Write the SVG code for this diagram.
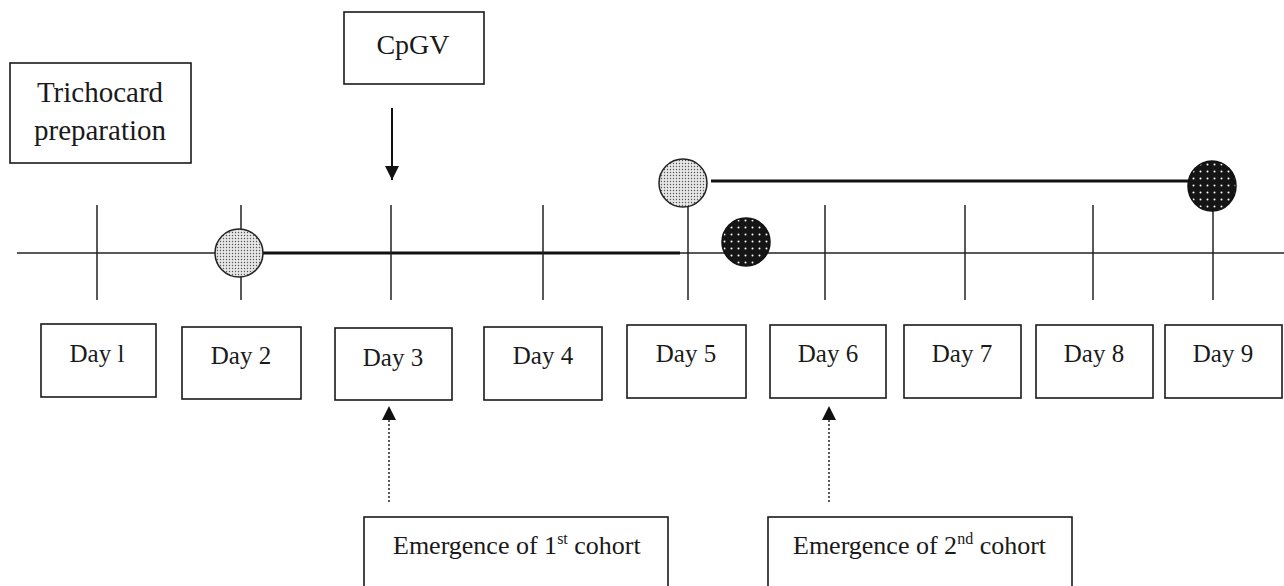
<svg xmlns="http://www.w3.org/2000/svg" width="1284" height="586" viewBox="0 0 1284 586">
<style>
.box{fill:#fff;stroke:#1a1a1a;stroke-width:1.6}
.t{font-family:"Liberation Serif","Times New Roman",serif;fill:#1a1a1a}
.day{font-size:25px;text-anchor:middle}
.big{font-size:29px;text-anchor:middle}
.cp{font-size:28px;text-anchor:middle}
.em{font-size:26px}
.tick{stroke:#222;stroke-width:1.5}
.thin{stroke:#222;stroke-width:1.4}
.thick{stroke:#111;stroke-width:3}
.light{fill:url(#lightdots);stroke:#222;stroke-width:1.5}
.dark{fill:url(#darkdots);stroke:#111;stroke-width:1.5}
.dot{stroke:#222;stroke-width:1.5;stroke-dasharray:2 2;fill:none}
.solid{stroke:#111;stroke-width:2;fill:none}
</style>
<defs>
<pattern id="lightdots" width="3" height="3" patternUnits="userSpaceOnUse">
<rect width="3" height="3" fill="#e6e6e6"/>
<circle cx="1.5" cy="1.5" r="0.7" fill="#555"/>
</pattern>
<pattern id="darkdots" width="7" height="7" patternUnits="userSpaceOnUse">
<rect width="7" height="7" fill="#151515"/>
<circle cx="3.5" cy="3.5" r="1" fill="#fff"/>
</pattern>
<marker id="ah" viewBox="0 0 10 10" refX="10" refY="5" markerWidth="14" markerHeight="14" markerUnits="userSpaceOnUse" orient="auto">
<path d="M0,0 L10,5 L0,10 z" fill="#111"/>
</marker>
</defs>

<g id="connectors">
<line class="thin" x1="17" y1="253" x2="1284" y2="253"/>
<line class="thick" x1="262" y1="253" x2="680" y2="253"/>
<line class="thick" x1="711" y1="181" x2="1190" y2="181"/>
<line class="tick" x1="97" y1="205" x2="97" y2="300"/>
<line class="tick" x1="241" y1="205" x2="241" y2="300"/>
<line class="tick" x1="391" y1="205" x2="391" y2="300"/>
<line class="tick" x1="543" y1="205" x2="543" y2="300"/>
<line class="tick" x1="688" y1="205" x2="688" y2="300"/>
<line class="tick" x1="825" y1="205" x2="825" y2="300"/>
<line class="tick" x1="965" y1="205" x2="965" y2="300"/>
<line class="tick" x1="1093" y1="205" x2="1093" y2="300"/>
<line class="tick" x1="1213" y1="205" x2="1213" y2="300"/>
<line class="solid" x1="392" y1="108" x2="392" y2="180" marker-end="url(#ah)"/>
<line class="dot" x1="389" y1="502" x2="389" y2="406" marker-end="url(#ah)"/>
<line class="dot" x1="829" y1="502" x2="829" y2="406" marker-end="url(#ah)"/>
</g>

<g id="markers">
<ellipse class="light" cx="239" cy="253" rx="24" ry="24"/>
<ellipse class="light" cx="683" cy="183" rx="24" ry="24"/>
<ellipse class="dark" cx="746" cy="242" rx="24" ry="24"/>
<ellipse class="dark" cx="1212" cy="186" rx="24" ry="25"/>
</g>

<g id="trichocard">
<rect class="box" x="10" y="63" width="181" height="100"/>
<text class="t big" x="100" y="102">Trichocard</text>
<text class="t big" x="100" y="140">preparation</text>
</g>
<g id="cpgv">
<rect class="box" x="344" y="12" width="140" height="72"/>
<text class="t cp" x="413" y="54">CpGV</text>
</g>

<g id="day1"><rect class="box" x="41" y="324" width="115" height="73"/><text class="t day" x="97" y="362">Day l</text></g>
<g id="day2"><rect class="box" x="182" y="327" width="119" height="72"/><text class="t day" x="241" y="364">Day 2</text></g>
<g id="day3"><rect class="box" x="335" y="328" width="117" height="72"/><text class="t day" x="393" y="366">Day 3</text></g>
<g id="day4"><rect class="box" x="484" y="327" width="118" height="73"/><text class="t day" x="543" y="364">Day 4</text></g>
<g id="day5"><rect class="box" x="627" y="325" width="119" height="73"/><text class="t day" x="686" y="362">Day 5</text></g>
<g id="day6"><rect class="box" x="770" y="325" width="116" height="73"/><text class="t day" x="828" y="362">Day 6</text></g>
<g id="day7"><rect class="box" x="904" y="325" width="117" height="73"/><text class="t day" x="962" y="362">Day 7</text></g>
<g id="day8"><rect class="box" x="1036" y="325" width="117" height="73"/><text class="t day" x="1094" y="362">Day 8</text></g>
<g id="day9"><rect class="box" x="1165" y="325" width="117" height="73"/><text class="t day" x="1223" y="362">Day 9</text></g>

<g id="cohort1">
<rect class="box" x="364" y="517" width="304" height="80"/>
<text class="t em" x="393" y="554">Emergence of 1<tspan font-size="16" dy="-10">st</tspan><tspan dy="10"> cohort</tspan></text>
</g>
<g id="cohort2">
<rect class="box" x="768" y="517" width="304" height="80"/>
<text class="t em" x="793" y="554">Emergence of 2<tspan font-size="16" dy="-10">nd</tspan><tspan dy="10"> cohort</tspan></text>
</g>
</svg>
